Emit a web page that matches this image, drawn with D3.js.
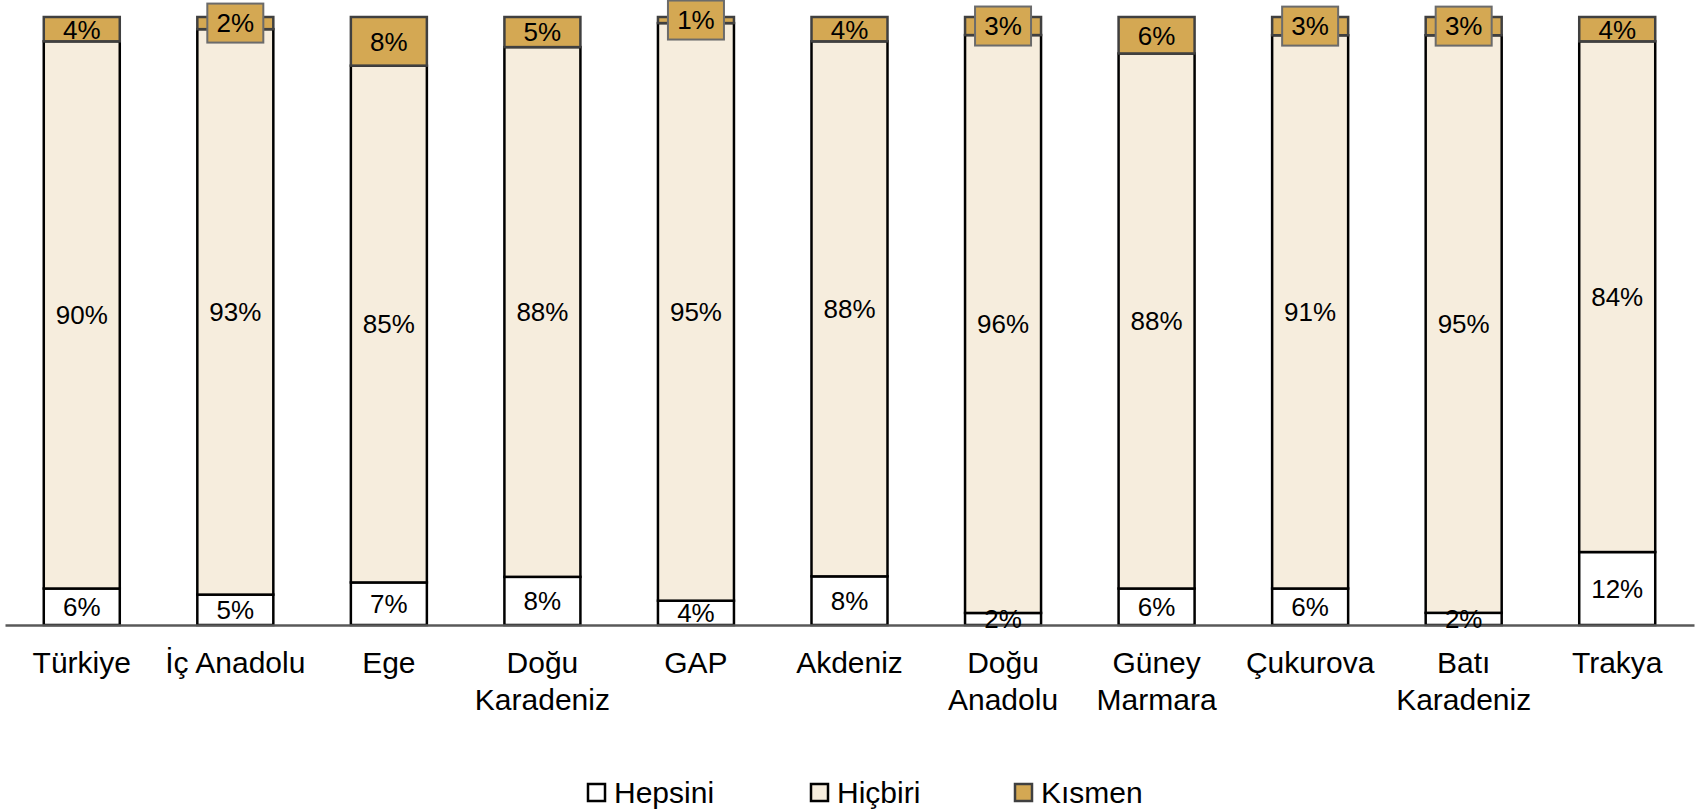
<!DOCTYPE html>
<html>
<head>
<meta charset="utf-8">
<script src="https://cdn.jsdelivr.net/npm/d3@7"></script>
<style>
  html, body { margin: 0; padding: 0; background: #fff; }
  svg text { font-family: "Liberation Sans", Arial, sans-serif; fill: #000; }
</style>
</head>
<body>
<svg id="chart" width="1704" height="809"></svg>
<script>
// Regions (two-line labels split with "\n")
const categories = ["Türkiye", "İç Anadolu", "Ege", "Doğu\nKaradeniz", "GAP", "Akdeniz",
                    "Doğu\nAnadolu", "Güney\nMarmara", "Çukurova", "Batı\nKaradeniz", "Trakya"];
const seriesNames = ["Hepsini", "Hiçbiri", "Kısmen"];
const hepsini = [6, 5, 7, 8, 4, 8, 2, 6, 6, 2, 12];
const hicbiri = [90, 93, 85, 88, 95, 88, 96, 88, 91, 95, 84];
const kismen  = [4, 2, 8, 5, 1, 4, 3, 6, 3, 3, 4];

const fills   = { "Hepsini": "#ffffff", "Hiçbiri": "#f6eddd", "Kısmen": "#d4a853" };
const strokes = { "Hepsini": "#000000", "Hiçbiri": "#000000", "Kısmen": "#404040" };

const rows = categories.map((c, i) => ({
  cat: c, "Hepsini": hepsini[i], "Hiçbiri": hicbiri[i], "Kısmen": kismen[i]
}));

const svg = d3.select("#chart");
const plot = { left: 5, right: 1694, top: 17, bottom: 625 };

const x = d3.scaleBand().domain(categories).range([plot.left, plot.right]).paddingInner(0.505).paddingOuter(0.2525);
const y = d3.scaleLinear().domain([0, 1]).range([plot.bottom, plot.top]);

// 100% stacked columns
const stacked = d3.stack().keys(seriesNames).offset(d3.stackOffsetExpand)(rows);

const layers = svg.append("g").selectAll("g").data(stacked).join("g");
layers.selectAll("rect")
  .data(s => s.map(d => ({ key: s.key, d })))
  .join("rect")
  .attr("x", p => x(p.d.data.cat))
  .attr("width", x.bandwidth())
  .attr("y", p => y(p.d[1]))
  .attr("height", p => y(p.d[0]) - y(p.d[1]))
  .attr("fill", p => fills[p.key])
  .attr("stroke", p => strokes[p.key])
  .attr("stroke-width", 2.5);

// Category axis
const axis = svg.append("g").attr("transform", `translate(0,${plot.bottom})`)
  .call(d3.axisBottom(x).tickSize(0).tickFormat(""));
axis.select(".domain").attr("stroke", "#595959").attr("stroke-width", 2.5);

const catLabels = svg.append("g").selectAll("text").data(categories).join("text")
  .attr("x", c => x(c) + x.bandwidth() / 2)
  .attr("y", 673)
  .attr("text-anchor", "middle")
  .style("font-size", "30px");
catLabels.selectAll("tspan").data(c => c.split("\n")).join("tspan")
  .attr("x", function () { return d3.select(this.parentNode).attr("x"); })
  .attr("dy", (t, i) => i === 0 ? 0 : 37)
  .text(t => t);

// Value labels; small top segments get a boxed label
const labelG = svg.append("g");
stacked.forEach(s => {
  s.forEach(d => {
    const v = d.data[s.key];
    const cx = x(d.data.cat) + x.bandwidth() / 2;
    const cy = (y(d[0]) + y(d[1])) / 2;
    if (s.key === "Kısmen" && v < 4) {
      labelG.append("rect")
        .attr("x", cx - 28).attr("y", cy - 19.5)
        .attr("width", 56).attr("height", 39)
        .attr("fill", fills["Kısmen"])
        .attr("stroke", "#6b6b6b").attr("stroke-width", 2);
    }
    labelG.append("text")
      .attr("x", cx).attr("y", cy)
      .attr("dy", "0.36em")
      .attr("text-anchor", "middle")
      .style("font-size", "26px")
      .text(v + "%");
  });
});

// Legend
const legendX = [588, 811, 1015];
const legend = svg.append("g").selectAll("g").data(seriesNames).join("g")
  .attr("transform", (k, i) => `translate(${legendX[i]},784)`);
legend.append("rect")
  .attr("width", 17).attr("height", 17)
  .attr("fill", k => fills[k])
  .attr("stroke", k => k === "Kısmen" ? "#404040" : "#000")
  .attr("stroke-width", 2.5);
legend.append("text")
  .attr("x", 26).attr("y", 19)
  .style("font-size", "30px")
  .text(k => k);
</script>
</body>
</html>
